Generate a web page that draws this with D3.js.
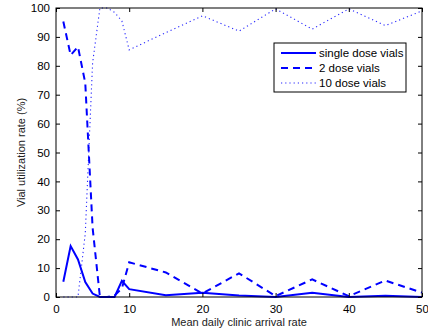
<!DOCTYPE html>
<html>
<head>
<meta charset="utf-8">
<script src="https://cdn.jsdelivr.net/npm/d3@7"></script>
<style>
  body { margin: 0; background: #fff; }
  svg { display: block; font-family: "Liberation Sans", Arial, sans-serif; }
</style>
</head>
<body>
<div id="chart"></div>
<script>
"use strict";

// arrival rates (x) and utilization rates (%) per vial size
const arrivalRates = [1, 2, 3, 4, 5, 6, 7, 8, 9, 10, 15, 20, 25, 30, 35, 40, 45, 50];
const singleDose = [5.3, 17.6, 13, 5.2, 1.2, 0, 0, 0, 5.6, 2.7, 0.6, 1.5, 0.5, 0, 1.5, 0, 0.4, 0];
const twoDose = [95.3, 83.7, 86.6, 74, 24, 0, 0, 0.5, 3, 12, 8.5, 1.2, 8.2, 0.3, 6.1, 0.3, 5.7, 1.5];
const tenDose = [0, 0, 0, 22, 81, 100, 100, 98.5, 95.5, 85.5, 91.5, 97.3, 92, 99.7, 92.7, 99.7, 93.9, 99];

const seriesNames = ["single dose vials", "2 dose vials", "10 dose vials"];
const xTicks = [0, 10, 20, 30, 40, 50];
const yTicks = [0, 10, 20, 30, 40, 50, 60, 70, 80, 90, 100];

const width = 428, height = 332;
const margin = { top: 8, right: 6, bottom: 35, left: 56 };

const series = [
  { name: seriesNames[0], values: singleDose, width: 2, dash: null, opacity: 1 },
  { name: seriesNames[1], values: twoDose, width: 2, dash: "7,5", opacity: 1 },
  { name: seriesNames[2], values: tenDose, width: 1.1, dash: "1.2,3", opacity: 0.85 }
];

const svg = d3.select("#chart").append("svg")
  .attr("width", width)
  .attr("height", height);

const x = d3.scaleLinear().domain([0, 50]).range([margin.left, width - margin.right]);
const y = d3.scaleLinear().domain([0, 100]).range([height - margin.bottom, margin.top]);

// clip so the lines stay inside the box
svg.append("clipPath").attr("id", "plotClip")
  .append("rect")
  .attr("x", x(0)).attr("y", y(100) - 1)
  .attr("width", x(50) - x(0)).attr("height", y(0) - y(100) + 2);

const line = d3.line()
  .x((d, i) => x(arrivalRates[i]))
  .y(d => y(d));

const lines = svg.append("g").attr("clip-path", "url(#plotClip)");
series.forEach(function(s) {
  lines.append("path")
    .datum(s.values)
    .attr("d", line)
    .attr("fill", "none")
    .attr("stroke", "#0000ff")
    .attr("stroke-opacity", s.opacity)
    .attr("stroke-width", s.width)
    .attr("stroke-dasharray", s.dash);
});

// axes with inward ticks on all four sides
const tickSize = 4;
const axisStyle = function(g) {
  g.select(".domain").remove();
  g.selectAll(".tick line").attr("stroke", "#000");
  g.selectAll(".tick text").attr("fill", "#000").attr("font-size", 11.5);
};

svg.append("g")
  .attr("transform", `translate(0,${y(0)})`)
  .call(d3.axisBottom(x).tickValues(xTicks).tickSize(-tickSize).tickPadding(8))
  .call(axisStyle);
svg.append("g")
  .attr("transform", `translate(0,${y(100)})`)
  .call(d3.axisTop(x).tickValues(xTicks).tickSize(-tickSize).tickFormat(""))
  .call(axisStyle);
svg.append("g")
  .attr("transform", `translate(${x(0)},0)`)
  .call(d3.axisLeft(y).tickValues(yTicks).tickSize(-tickSize).tickPadding(6))
  .call(axisStyle);
svg.append("g")
  .attr("transform", `translate(${x(50)},0)`)
  .call(d3.axisRight(y).tickValues(yTicks).tickSize(-tickSize).tickFormat(""))
  .call(axisStyle);

svg.append("rect")
  .attr("x", x(0)).attr("y", y(100))
  .attr("width", x(50) - x(0)).attr("height", y(0) - y(100))
  .attr("fill", "none")
  .attr("stroke", "#000")
  .attr("stroke-width", 1);

// axis labels
svg.append("text")
  .attr("x", (x(0) + x(50)) / 2)
  .attr("y", 326)
  .attr("text-anchor", "middle")
  .attr("font-size", 11)
  .attr("fill", "#222")
  .text("Mean daily clinic arrival rate");

svg.append("text")
  .attr("transform", `translate(25,${(y(0) + y(100)) / 2}) rotate(-90)`)
  .attr("text-anchor", "middle")
  .attr("font-size", 11)
  .attr("fill", "#222")
  .text("Vial utilization rate (%)");

// legend
const legend = svg.append("g").attr("transform", "translate(274,43)");
legend.append("rect")
  .attr("width", 132).attr("height", 49)
  .attr("fill", "#fff")
  .attr("stroke", "#000")
  .attr("stroke-width", 1);
series.forEach(function(s, i) {
  const ly = 10 + i * 15;
  legend.append("line")
    .attr("x1", 7).attr("x2", 42)
    .attr("y1", ly).attr("y2", ly)
    .attr("stroke", "#0000ff")
    .attr("stroke-opacity", s.opacity)
    .attr("stroke-width", s.width)
    .attr("stroke-dasharray", s.dash);
  legend.append("text")
    .attr("x", 45)
    .attr("y", ly + 4)
    .attr("font-size", 11.5)
    .attr("fill", "#000")
    .text(s.name);
});
</script>
</body>
</html>
